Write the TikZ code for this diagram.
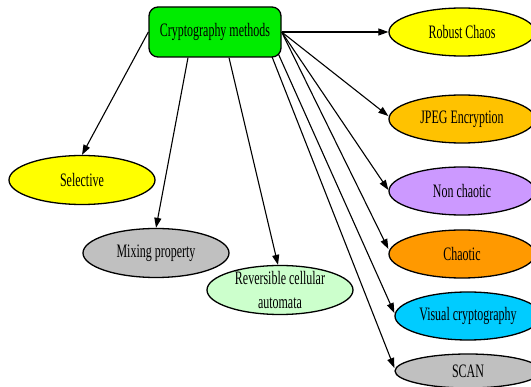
\documentclass[tikz,border=0pt]{standalone}
\usepackage{fontspec}
\setmainfont{Liberation Serif}[FakeStretch=0.63]
\usetikzlibrary{shapes.geometric,arrows.meta,calc,backgrounds}
\definecolor{cgreen}{RGB}{0,236,0}
\definecolor{cyellow}{RGB}{255,255,0}
\definecolor{cjpeg}{RGB}{255,194,0}
\definecolor{clav}{RGB}{204,153,255}
\definecolor{corange}{RGB}{255,153,0}
\definecolor{ccyan}{RGB}{0,204,255}
\definecolor{cgray}{RGB}{192,192,192}
\definecolor{clgreen}{RGB}{204,255,204}
\begin{document}
\begin{tikzpicture}[x=1pt,y=-1pt,
  ell/.style={ellipse,draw=black,line width=1.3pt,inner sep=0pt,minimum width=146pt,minimum height=48pt},
  txt/.style={inner sep=0pt,align=center,font=\fontsize{19}{23.5}\selectfont},
  edge/.style={draw=black,line width=1.1pt,-{Triangle[length=10pt,width=7pt]}}]
\useasboundingbox (0,0) rectangle (531,387);
\clip (0,0) rectangle (531,387);
% main box
\node[draw=black,line width=1.3pt,fill=cgreen,rounded corners=9pt,minimum width=132pt,minimum height=50pt,inner sep=0pt] (crypto) at (215,32) {};
\node[txt] (cryptot) at (crypto.center) {Cryptography methods};
% left nodes
\node[ell,fill=cyellow,minimum height=49pt] (sel) at (82,180) {};
\node[txt] (selt) at (sel.center) {Selective};
\node[ell,fill=cgray,minimum height=49pt] (mix) at (156,253) {};
\node[txt] (mixt) at (mix.center) {Mixing property};
\node[ell,fill=clgreen,minimum height=49pt] (rev) at (280,290) {};
\node[txt] (revt) at (rev.center) {Reversible cellular\\automata};
% right nodes
\node[ell,fill=cyellow] (rob) at (462,32) {};
\node[txt] (robt) at (rob.center) {Robust Chaos};
\node[ell,fill=cjpeg] (jpeg) at (462,119) {};
\node[txt] (jpegt) at (jpeg.center) {JPEG Encryption};
\node[ell,fill=clav] (non) at (462,191) {};
\node[txt] (nont) at (non.center) {Non chaotic};
\node[ell,fill=corange] (cha) at (462,254) {};
\node[txt] (chat) at (cha.center) {Chaotic};
\node[ell,fill=ccyan] (vis) at (468,316) {};
\node[txt] (vist) at (vis.center) {Visual cryptography};
\node[ell,fill=cgray,minimum height=34pt] (scan) at (468,371) {};
\node[txt] (scant) at (scan.center) {SCAN};
% start points
\coordinate (mixs) at ($(crypto.south)+(-27,0)$);
\coordinate (revs) at ($(crypto.south)+(14,0)$);
\coordinate (viss) at ($(crypto.south east)+(-7,-12)$);
\coordinate (scans) at ($(crypto.south east)+(-14,-12)$);
\begin{pgfonlayer}{background}
\draw[edge] (crypto.west) -- (sel.north);
\draw[edge] (mixs) -- (mix.north);
\draw[edge] (revs) -- ($(rev.north)+(-2,0)$);
\draw[edge] (crypto.east) -- (rob.west);
\draw[edge] (crypto.east) -- ($(jpeg.west)+(0,-3)$);
\draw[edge] (crypto.east) -- ($(non.west)+(0,-1)$);
\draw[edge] (crypto.east) -- ($(cha.west)+(0,-5)$);
\draw[edge] (viss) -- ($(vis.west)+(0,-3)$);
\draw[edge] (scans) -- ($(scan.west)+(0,-3)$);
\end{pgfonlayer}
\end{tikzpicture}
\end{document}
